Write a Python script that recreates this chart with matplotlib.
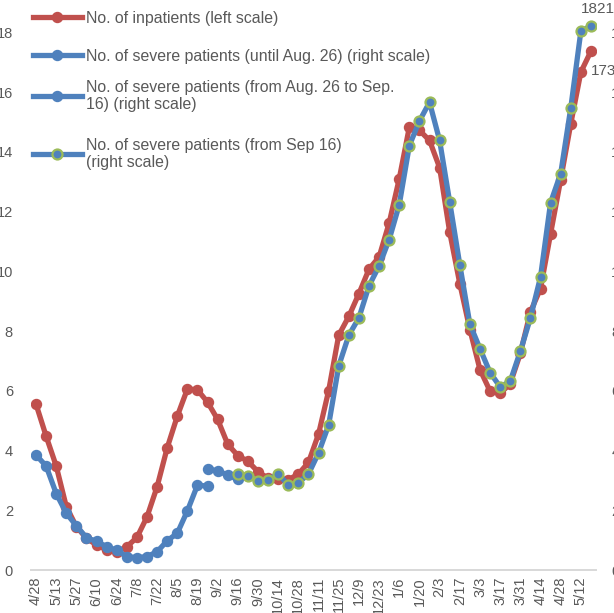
import matplotlib
matplotlib.use("Agg")
import matplotlib.pyplot as plt

plt.rcParams['font.family'] = ['Liberation Sans', 'DejaVu Sans']

# weekly dates (every other one is labelled on the axis)
dates = ["4/28", "5/6", "5/13", "5/20", "5/27", "6/3", "6/10", "6/17", "6/24",
         "7/1", "7/8", "7/15", "7/22", "7/29", "8/5", "8/12", "8/19", "8/26",
         "9/2", "9/9", "9/16", "9/23", "9/30", "10/7", "10/14", "10/21", "10/28",
         "11/4", "11/11", "11/18", "11/25", "12/2", "12/9", "12/16", "12/23",
         "12/30", "1/6", "1/13", "1/20", "1/27", "2/3", "2/10", "2/17", "2/24",
         "3/3", "3/10", "3/17", "3/24", "3/31", "4/7", "4/14", "4/21", "4/28",
         "5/5", "5/12", "5/19"]

# inpatients (left scale)
inpatients = [5.55, 4.48, 3.48, 2.12, 1.45, 1.06, 0.84, 0.67, 0.61, 0.78,
              1.09, 1.78, 2.79, 4.09, 5.15, 6.06, 6.03, 5.62, 5.04, 4.21,
              3.83, 3.64, 3.29, 3.07, 3.05, 3.02, 3.21, 3.60, 4.55, 6.00,
              7.86, 8.49, 9.25, 10.07, 10.48, 11.62, 13.10, 14.83, 14.72, 14.38,
              13.47, 11.31, 9.59, 8.05, 6.71, 5.99, 5.91, 6.24, 7.25, 8.64,
              9.42, 11.26, 13.07, 14.94, 16.67, 17.37]

# severe patients (right scale), three definitions
severe_1 = [385, 348, 256, 190, 148, 108, 96, 78, 66, 45, 41, 45, 61, 98,
            123, 198, 284, 281]                       # until Aug 26
severe_2 = [338, 332, 318, 303]                       # Aug 26 - Sep 16
severe_3 = [321, 314, 298, 301, 323, 284, 292, 321, 392, 485, 683, 786,
            844, 951, 1018, 1106, 1223, 1421, 1503, 1566, 1438, 1232, 1022,
            823, 741, 661, 613, 632, 732, 844, 981, 1230, 1327, 1547, 1804,
            1821]                                     # from Sep 16

start_2 = dates.index("8/26")
start_3 = dates.index("9/16")

red = "#C0504D"
blue = "#4F81BD"
green = "#9BBB59"
grey = "#595959"

fig = plt.figure(figsize=(6.14, 6.13), dpi=100)
ax = fig.add_axes([31 / 614, 43 / 613, 565 / 614, 597.4 / 613])
ax2 = ax.twinx()

x_all = list(range(len(dates)))
x1 = x_all[:len(severe_1)]
x2 = x_all[start_2:start_2 + len(severe_2)]
x3 = x_all[start_3:start_3 + len(severe_3)]

l0, = ax.plot(x_all, inpatients, color=red, lw=3.8, marker='o', ms=7.2,
              label="No. of inpatients (left scale)")
l1, = ax2.plot(x1, severe_1, color=blue, lw=3.8, marker='o', ms=7.2,
               label="No. of severe patients (until Aug. 26) (right scale)")
l2, = ax2.plot(x2, severe_2, color=blue, lw=3.8, marker='o', ms=7.2,
               label="No. of severe patients (from Aug. 26 to Sep.\n16) (right scale)")
l3, = ax2.plot(x3, severe_3, color=blue, lw=3.8, marker='o', ms=7.2,
               mfc=blue, mec=green, mew=1.6,
               label="No. of severe patients (from Sep 16)\n(right scale)")

ax.set_xlim(-0.5, len(dates) - 0.5)
ax.set_ylim(0, 20)
ax2.set_ylim(0, 2000)
ax.set_yticks(range(0, 19, 2))
ax2.set_yticks(range(0, 1801, 200))
ax.set_xticks(x_all[::2])
ax.set_xticklabels(dates[::2], rotation=90)

for a in (ax, ax2):
    for s in ("top", "left", "right"):
        a.spines[s].set_visible(False)
    a.spines["bottom"].set_color("#D9D9D9")
    a.spines["bottom"].set_linewidth(1.3)
ax.tick_params(axis='y', length=0, pad=13, labelsize=10.5, labelcolor=grey)
ax2.tick_params(axis='y', length=0, pad=11, labelsize=10.5, labelcolor=grey)
ax.tick_params(axis='x', length=0, pad=5, labelsize=10.5, labelcolor=grey)

# data labels on the last points
ax2.annotate(str(severe_3[-1]), (x3[-1], severe_3[-1]), xytext=(5, 12),
             textcoords='offset points', ha='center', va='center',
             fontsize=11, color=grey)
ax.annotate(f"{inpatients[-1] * 1000:.0f}", (x_all[-1], inpatients[-1]),
            xytext=(0, -14), textcoords='offset points', ha='left',
            va='center', fontsize=11, color=grey)

# legend: one entry per box so the vertical spacing follows the original
legend_rows = [18, 56, 96, 154]   # pixel rows of the entry centres
for i, (h, yc) in enumerate(zip([l0, l1, l2, l3], legend_rows)):
    leg = ax2.legend(handles=[h], loc='center left',
                     bbox_to_anchor=(25 / 614, 1 - yc / 613),
                     bbox_transform=fig.transFigure, frameon=False,
                     fontsize=11.4, handlelength=3.1, handletextpad=0.25,
                     borderpad=0, labelcolor=grey)
    leg.get_texts()[0].set_linespacing(1.2)
    if i < 3:
        ax2.add_artist(leg)

fig.savefig("out.png", dpi=100)
